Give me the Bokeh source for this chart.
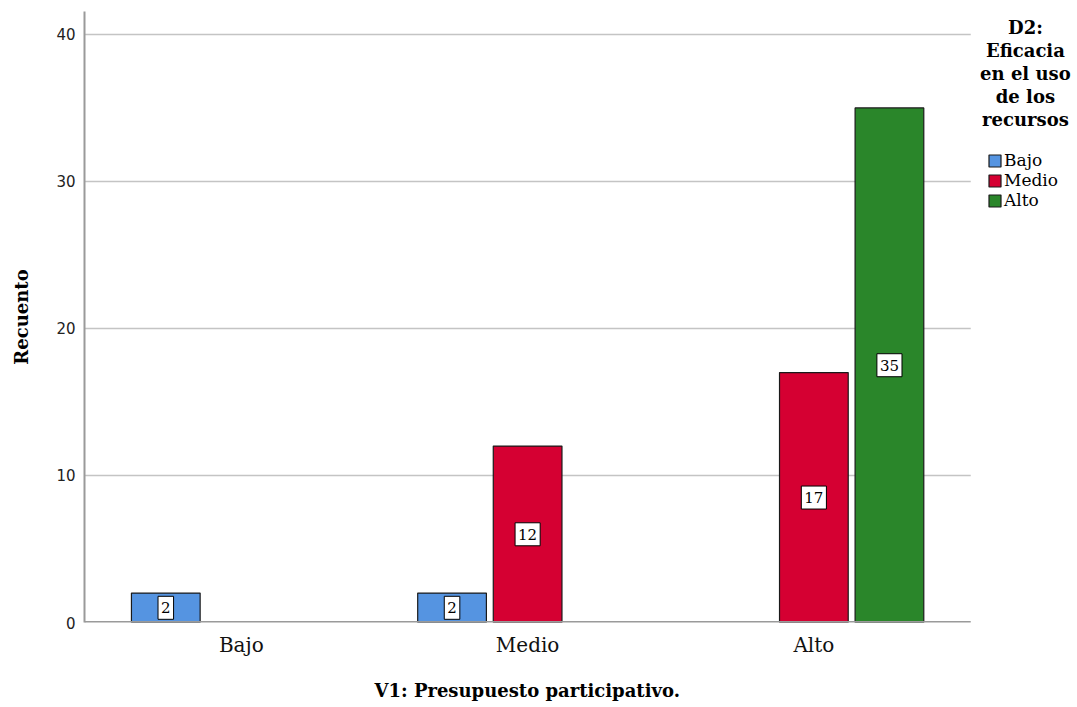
import numpy as np
from bokeh.plotting import figure
from bokeh.models import (ColumnDataSource, FixedTicker, Range1d, Legend, LegendItem, Label, Title)
from bokeh.core.properties import value
from bokeh.embed import file_html
from bokeh.resources import INLINE

# ---- data ----
categories = ["Bajo", "Medio", "Alto"]          # V1 categories (x axis)
series_names = ["Bajo", "Medio", "Alto"]        # D2 series (legend)
serie_bajo = [2, 2, 0]
serie_medio = [0, 12, 17]
serie_alto = [0, 0, 35]
y_ticks = [0, 10, 20, 30, 40]
legend_title_lines = ["D2:", "Eficacia", "en el uso", "de los", "recursos"]
x_title = "V1: Presupuesto participativo."
y_title = "Recuento"

colors = ["#5594E1", "#D50032", "#2A862A"]
offsets = [-0.264, 0.0, 0.264]
bar_w = 0.24
pad = 0.548

SERIF = "DejaVu Serif"
SANS = "DejaVu Sans"

x_start = -pad
x_end_plot = len(categories) - 1 + pad     # end of the visible plotting area
x_end_frame = x_start + 3.4515             # frame extends to hold the legend

p = figure(width=1075, height=703, output_backend="svg", toolbar_location=None,
           x_range=Range1d(x_start, x_end_frame), y_range=Range1d(0, 41.56),
           min_border_left=84, min_border_right=3, min_border_top=11, min_border_bottom=81)
p.outline_line_color = None
p.background_fill_color = "white"
p.border_fill_color = "white"

# horizontal gridlines limited to plot area
p.xgrid.grid_line_color = None
p.ygrid.grid_line_color = None
gt = [t for t in y_ticks if t > 0]
p.segment(x0=[x_start] * len(gt), x1=[x_end_plot] * len(gt), y0=gt, y1=gt,
          line_color="#c4c4c4", line_width=1.5)

renderers = []
for vals, col, off in zip([serie_bajo, serie_medio, serie_alto], colors, offsets):
    vals = np.array(vals, dtype=float)
    idx = np.arange(len(categories))
    mask = vals > 0
    src = ColumnDataSource(dict(x=idx[mask] + off, top=vals[mask], mid=vals[mask] / 2,
                                lbl=[str(int(v)) for v in vals[mask]]))
    r = p.vbar(x="x", top="top", width=bar_w, bottom=0, source=src,
               fill_color=col, line_color="#1a1a1a", line_width=1.2)
    renderers.append(r)
    p.text(x="x", y="mid", text="lbl", source=src, text_align="center",
           text_baseline="middle", text_font=value(SERIF), text_font_size="15px",
           text_color="black", background_fill_color="white",
           border_line_color="black", border_line_width=1,
           padding=dict(left=3, right=3, top=6, bottom=6))

# x baseline limited to plot area
p.segment(x0=[x_start], x1=[x_end_plot], y0=[0], y1=[0], line_color="#9a9a9a", line_width=3)

# axes
p.xaxis.ticker = FixedTicker(ticks=list(range(len(categories))))
p.xaxis.major_label_overrides = {i: c for i, c in enumerate(categories)}
p.yaxis.ticker = FixedTicker(ticks=y_ticks)
for ax in (p.xaxis[0], p.yaxis[0]):
    ax.major_tick_line_color = None
    ax.major_tick_out = 0
    ax.major_tick_in = 0
    ax.minor_tick_line_color = None
    ax.axis_label_text_font = SERIF
    ax.axis_label_text_font_style = "bold"
    ax.axis_label_text_font_size = "18px"
    ax.axis_label_text_color = "black"
p.xaxis.axis_line_color = None
p.yaxis.axis_line_color = "#9a9a9a"
p.yaxis.axis_line_width = 2
p.xaxis.major_label_text_font = SERIF
p.xaxis.major_label_text_font_size = "20px"
p.xaxis.major_label_text_color = "#111111"
p.xaxis.major_label_standoff = 10
p.yaxis.major_label_text_font = SANS
p.yaxis.major_label_text_font_size = "15px"
p.yaxis.major_label_text_color = "#222222"
p.yaxis.major_label_standoff = 9
p.yaxis.axis_label = y_title
p.yaxis.axis_label_standoff = 21

# x-axis title centred under the plotting area (not the legend area)
p.add_layout(Title(text=" ", standoff=0, text_font=SERIF, text_font_size="14px"), "below")
p.add_layout(Title(text=x_title, align="left", offset=290, standoff=0,
                   text_font=SERIF, text_font_style="bold", text_font_size="18px",
                   text_color="black"), "below")

# legend title (multi-line, centered)
for i, line in enumerate(legend_title_lines):
    p.add_layout(Label(x=2.739, y=40.48 - i * 1.565, text=line, text_align="center",
                       text_baseline="middle", text_font=SERIF, text_font_style="bold",
                       text_font_size="18px", text_color="black"))

items = [LegendItem(label=n, renderers=[r]) for n, r in zip(series_names, renderers)]
legend = Legend(items=items, location=(903, 412), padding=0, margin=0, spacing=0,
                glyph_width=15, glyph_height=15, label_height=20, label_standoff=2,
                label_text_font=SERIF, label_text_font_size="17px",
                label_text_color="black", border_line_color=None,
                background_fill_alpha=0)
p.add_layout(legend, "center")

open("out.html", "w").write(file_html(p, INLINE))
